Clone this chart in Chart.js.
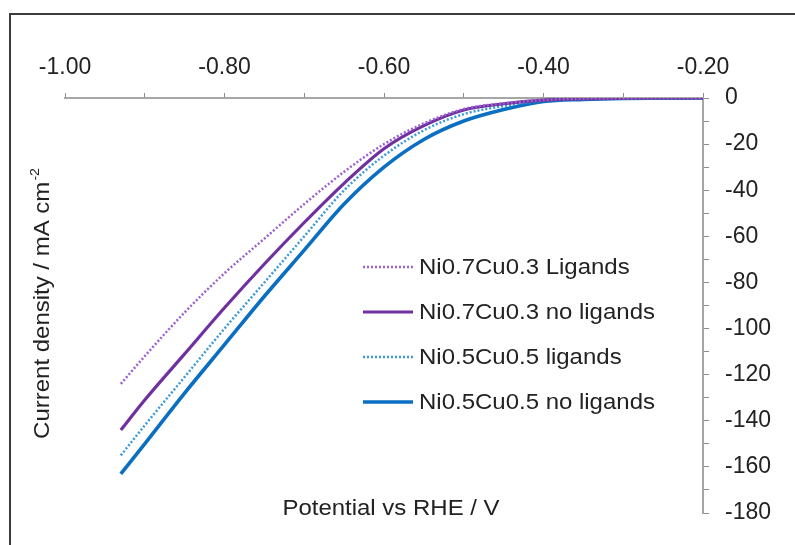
<!DOCTYPE html>
<html>
<head>
<meta charset="utf-8">
<script src="https://cdn.jsdelivr.net/npm/chart.js@4.4.1/dist/chart.umd.min.js"></script>
<style>
  html, body { margin: 0; padding: 0; background: #ffffff; }
  #wrap { position: relative; width: 795px; height: 545px; }
</style>
</head>
<body>
<div id="wrap"><canvas id="lsv" width="795" height="545"></canvas></div>
<script>
// Potential (V vs RHE) at which current density was sampled
const potential = [-0.93, -0.90, -0.85, -0.80, -0.75, -0.70, -0.65, -0.60, -0.55, -0.50, -0.45, -0.40, -0.35, -0.30, -0.25, -0.20];

// Current density (mA cm-2) for each catalyst
const ni07Ligands   = [-124, -112, -93, -76, -61, -46, -32, -20, -11, -4.8, -2.3, -0.9, -0.3, -0.1, 0, 0];
const ni07NoLigands = [-144, -131, -111, -91, -72, -54, -37, -22, -12, -5.2, -2.5, -0.9, -0.3, -0.1, 0, 0];
const ni05Ligands   = [-155, -142, -121, -100, -80, -60, -40, -25, -14, -7, -3.5, -1.1, -0.4, -0.15, -0.05, 0];
const ni05NoLigands = [-163, -150, -128, -107, -86, -66, -46, -30, -18, -10, -5, -1.5, -0.6, -0.2, -0.1, 0];

const seriesNames = ['Ni0.7Cu0.3 Ligands', 'Ni0.7Cu0.3 no ligands', 'Ni0.5Cu0.5 ligands', 'Ni0.5Cu0.5 no ligands'];

// Axis ranges and tick steps
const xMin = -1.0, xMax = -0.2, xStep = 0.1;
const yMin = -180, yMax = 0, yStep = 10;

const FONT = "'Liberation Sans', Arial, sans-serif";
const TEXT = '#222222';
const WIDEN = 1.09; // horizontal stretch of the drawn captions

const toPoints = (vals) => potential.map((p, i) => ({ x: p, y: vals[i] }));

const datasets = [
  { label: seriesNames[0], data: toPoints(ni07Ligands),   borderColor: '#9b62cf', borderWidth: 2.5, borderDash: [2, 2] },
  { label: seriesNames[1], data: toPoints(ni07NoLigands), borderColor: '#7030a0', borderWidth: 3.2, borderDash: [] },
  { label: seriesNames[2], data: toPoints(ni05Ligands),   borderColor: '#3b9ad9', borderWidth: 2.5, borderDash: [2, 2] },
  { label: seriesNames[3], data: toPoints(ni05NoLigands), borderColor: '#0a6fc2', borderWidth: 3.6, borderDash: [] }
].map(d => Object.assign(d, { pointRadius: 0, fill: false, cubicInterpolationMode: 'monotone' }));

// Page background and outer frame
const framePlugin = {
  id: 'frame',
  beforeDraw(chart) {
    const ctx = chart.ctx;
    ctx.save();
    ctx.fillStyle = '#ffffff';
    ctx.fillRect(0, 0, chart.width, chart.height);
    ctx.strokeStyle = '#3c3c3c';
    ctx.lineWidth = 2;
    ctx.beginPath();
    ctx.moveTo(10, chart.height);
    ctx.lineTo(10, 14);
    ctx.lineTo(chart.width, 14);
    ctx.stroke();
    ctx.restore();
  }
};

// Draws text stretched horizontally around its anchor
function wideText(ctx, text, x, y, align) {
  ctx.save();
  ctx.translate(x, y);
  ctx.scale(WIDEN, 1);
  ctx.textAlign = align;
  ctx.fillText(text, 0, 0);
  ctx.restore();
}

// Axis titles (the y title carries a superscript exponent)
const titlesPlugin = {
  id: 'titles',
  afterDraw(chart) {
    const ctx = chart.ctx;
    const area = chart.chartArea;
    ctx.save();
    ctx.fillStyle = TEXT;
    ctx.font = '22px ' + FONT;
    ctx.textBaseline = 'middle';
    wideText(ctx, 'Potential vs RHE / V', (area.left + area.right) / 2 + 7, 509, 'center');

    const main = 'Current density / mA cm';
    const sup = '-2';
    ctx.translate(43, 304);
    ctx.rotate(-Math.PI / 2);
    ctx.scale(WIDEN, 1);
    ctx.font = '22px ' + FONT;
    const wMain = ctx.measureText(main).width;
    ctx.font = '13px ' + FONT;
    const wSup = ctx.measureText(sup).width;
    const start = -(wMain + wSup) / 2;
    ctx.textAlign = 'left';
    ctx.font = '22px ' + FONT;
    ctx.fillText(main, start, 0);
    ctx.font = '13px ' + FONT;
    ctx.fillText(sup, start + wMain + 1, -8);
    ctx.restore();
  }
};

// Legend placed inside the plot area
const legendPlugin = {
  id: 'innerLegend',
  afterDatasetsDraw(chart) {
    const ctx = chart.ctx;
    const area = chart.chartArea;
    const x0 = area.left + 298;
    const y0 = area.top + 169;
    const rowGap = 45;
    ctx.save();
    chart.data.datasets.forEach((ds, i) => {
      const y = y0 + i * rowGap;
      ctx.strokeStyle = ds.borderColor;
      ctx.lineWidth = ds.borderWidth;
      ctx.setLineDash(ds.borderDash || []);
      ctx.beginPath();
      ctx.moveTo(x0, y);
      ctx.lineTo(x0 + 50, y);
      ctx.stroke();
      ctx.setLineDash([]);
      ctx.fillStyle = TEXT;
      ctx.font = '22px ' + FONT;
      ctx.textBaseline = 'middle';
      wideText(ctx, ds.label, x0 + 56, y + 1, 'left');
    });
    ctx.restore();
  }
};

new Chart(document.getElementById('lsv'), {
  type: 'line',
  data: { datasets },
  plugins: [framePlugin, titlesPlugin, legendPlugin],
  options: {
    responsive: false,
    animation: false,
    layout: { padding: { left: 65, right: 22, top: 53, bottom: 32 } },
    plugins: { legend: { display: false }, tooltip: { enabled: false } },
    scales: {
      x: {
        type: 'linear',
        position: 'top',
        min: xMin,
        max: xMax,
        afterFit(scale) { scale.height = 45; },
        border: { display: true, color: '#a6a6a6', width: 2 },
        grid: { drawOnChartArea: false, drawTicks: true, tickLength: 5, color: '#8c8c8c', lineWidth: 1 },
        ticks: {
          stepSize: xStep,
          autoSkip: false,
          maxRotation: 0,
          padding: 12,
          color: TEXT,
          font: { family: FONT, size: 23 },
          callback: (v) => Math.round(v * 10) % 2 === 0 ? v.toFixed(2) : ''
        }
      },
      y: {
        type: 'linear',
        position: 'right',
        min: yMin,
        max: yMax,
        afterFit(scale) { scale.width = 70; },
        border: { display: true, color: '#a6a6a6', width: 2 },
        grid: { drawOnChartArea: false, drawTicks: true, tickLength: 6, color: '#8c8c8c', lineWidth: 1 },
        ticks: {
          stepSize: yStep,
          autoSkip: false,
          maxTicksLimit: 40,
          padding: 16,
          color: TEXT,
          font: { family: FONT, size: 23 },
          callback: (v) => Math.round(v) % 20 === 0 ? String(Math.round(v)) : ''
        }
      }
    }
  }
});
</script>
</body>
</html>
